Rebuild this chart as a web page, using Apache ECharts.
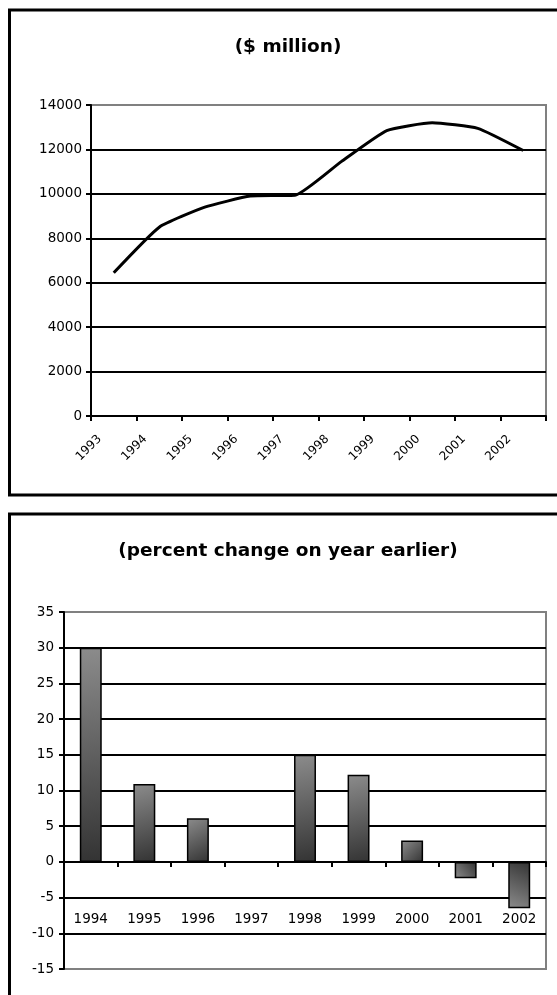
<!DOCTYPE html>
<html><head><meta charset="utf-8">
<script src="https://cdn.jsdelivr.net/npm/echarts@6/dist/echarts.min.js"></script>
<style>html,body{margin:0;padding:0;background:#fff}#c{width:557px;height:995px}</style>
</head><body><div id="c"></div>
<script>
// ---- data ----
const levelTitle = '($ million)';
const levelYears = ['1993','1994','1995','1996','1997','1998','1999','2000','2001','2002'];
const levelValues = [6450, 8500, 9400, 9900, 9950, 11450, 12850, 13200, 12950, 11950];
const changeTitle = '(percent change on year earlier)';
const changeYears = ['1994','1995','1996','1997','1998','1999','2000','2001','2002'];
const changeValues = [30, 10.9, 6.1, 0, 15, 12.2, 3, -2.3, -6.5];

const FONT = 'DejaVu Sans';
const LIGHT = '#8c8c8c', DARK = '#333333';
function barFill(v) {
  return v >= 0
    ? new echarts.graphic.LinearGradient(0, 0, 1, 1, [{offset:0,color:LIGHT},{offset:1,color:DARK}])
    : new echarts.graphic.LinearGradient(0, 1, 1, 0, [{offset:0,color:LIGHT},{offset:1,color:DARK}]);
}
const barData = changeValues.map(v => ({
  value: v,
  itemStyle: { color: barFill(v), borderWidth: v === 0 ? 0 : 1.5 }
}));

const chart = echarts.init(document.getElementById('c'), null, {renderer: 'canvas'});
const axisLineBlack = { show: true, onZero: true, lineStyle: { color: '#000', width: 2 } };
chart.setOption({
  animation: false,
  backgroundColor: '#fff',
  title: [
    { text: levelTitle, left: 283, top: 33, textAlign: 'center',
      textStyle: { fontFamily: FONT, fontWeight: 'bold', fontSize: 18.5, color: '#000' } },
    { text: changeTitle, left: 283, top: 537, textAlign: 'center',
      textStyle: { fontFamily: FONT, fontWeight: 'bold', fontSize: 18.5, color: '#000' } }
  ],
  graphic: [
    { type: 'rect', silent: true, z: 100, shape: { x: 9.5, y: 10, width: 600, height: 485 },
      style: { fill: 'none', stroke: '#000', lineWidth: 3 } },
    { type: 'rect', silent: true, z: 100, shape: { x: 9.5, y: 514, width: 600, height: 600 },
      style: { fill: 'none', stroke: '#000', lineWidth: 3 } }
  ],
  grid: [
    { left: 91, top: 105, width: 455, height: 311, show: true, borderColor: '#808080', borderWidth: 2,
      backgroundColor: 'transparent', containLabel: false, outerBoundsMode: 'none' },
    { left: 64, top: 612, width: 482, height: 357, show: true, borderColor: '#808080', borderWidth: 2,
      backgroundColor: 'transparent', containLabel: false, outerBoundsMode: 'none' }
  ],
  xAxis: [
    { type: 'category', gridIndex: 0, data: levelYears, boundaryGap: true,
      axisLine: axisLineBlack,
      axisTick: { show: true, length: 5, interval: 0, lineStyle: { color: '#000', width: 2 } },
      axisLabel: { interval: 0, rotate: 45, margin: 7, padding: [0, 20, 0, 0],
        fontFamily: FONT, fontSize: 12, color: '#000' },
      splitLine: { show: false } },
    { type: 'category', gridIndex: 1, data: changeYears, boundaryGap: true,
      axisLine: axisLineBlack,
      axisTick: { show: true, length: 5, interval: 0, lineStyle: { color: '#000', width: 2 } },
      axisLabel: { interval: 0, margin: -57, fontFamily: FONT, fontSize: 13.5, color: '#000' },
      splitLine: { show: false } }
  ],
  yAxis: [
    { type: 'value', gridIndex: 0, min: 0, max: 14000, interval: 2000,
      axisLine: { show: true, lineStyle: { color: '#000', width: 2 } },
      axisTick: { show: true, length: 5, lineStyle: { color: '#000', width: 2 } },
      axisLabel: { margin: 9, fontFamily: FONT, fontSize: 13.5, color: '#000',
        formatter: v => String(v) },
      splitLine: { show: true, showMinLine: false, showMaxLine: false, lineStyle: { color: '#000', width: 2 } } },
    { type: 'value', gridIndex: 1, min: -15, max: 35, interval: 5,
      axisLine: { show: true, lineStyle: { color: '#000', width: 2 } },
      axisTick: { show: true, length: 5, lineStyle: { color: '#000', width: 2 } },
      axisLabel: { margin: 10, fontFamily: FONT, fontSize: 13.5, color: '#000' },
      splitLine: { show: true, showMinLine: false, showMaxLine: false, lineStyle: { color: '#000', width: 2 } } }
  ],
  series: [
    { type: 'line', xAxisIndex: 0, yAxisIndex: 0, data: levelValues, showSymbol: false, symbol: 'none',
      smooth: 0.15, lineStyle: { color: '#000', width: 3 }, z: 5 },
    { type: 'bar', xAxisIndex: 1, yAxisIndex: 1, data: barData, barWidth: '41%',
      itemStyle: { borderColor: '#000', borderWidth: 1.5 }, z: 5 }
  ]
});
</script>
</body></html>
